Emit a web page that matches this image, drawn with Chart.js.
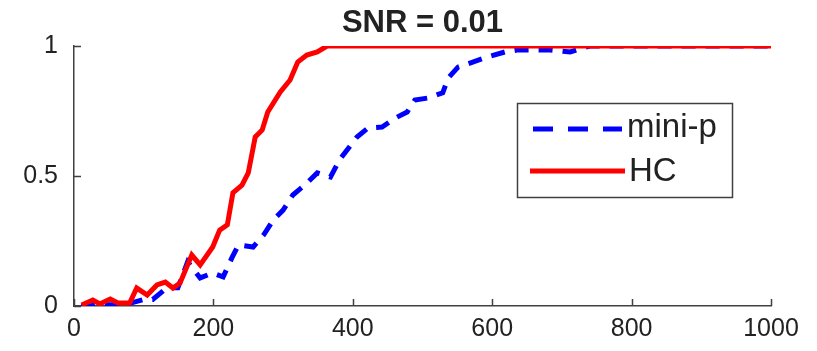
<!DOCTYPE html>
<html>
<head>
<meta charset="utf-8">
<script src="https://cdn.jsdelivr.net/npm/chart.js@4"></script>
<style>
  html, body { margin: 0; padding: 0; background: #fff; }
  #wrap { width: 817px; height: 351px; }
</style>
</head>
<body>
<div id="wrap"><canvas id="c" width="817" height="351"></canvas></div>
<script>
// ---- data ----
const titleText = 'SNR = 0.01';
const seriesNames = ['mini-p', 'HC'];

const hcX = [11, 27, 37, 52, 63, 80, 90, 105, 119, 131, 142, 152, 169, 181, 199, 209, 220, 228, 241, 250, 260, 270, 278, 296, 310, 321, 334, 349, 363, 1000];
const hcY = [0.004, 0.023, 0.008, 0.027, 0.012, 0.012, 0.069, 0.042, 0.081, 0.092, 0.069, 0.088, 0.196, 0.158, 0.227, 0.292, 0.312, 0.435, 0.465, 0.512, 0.65, 0.677, 0.746, 0.823, 0.869, 0.938, 0.965, 0.977, 1, 1];

const mpX = [10, 20, 37, 60, 80, 100, 113, 133, 149, 163, 181, 199, 214, 227, 236, 257, 272, 286, 300, 314, 331, 349, 368, 381, 406, 422, 442, 461, 478, 489, 508, 529, 537, 551, 572, 593, 618, 637, 664, 683, 712, 740, 1000];
const mpY = [0, 0, 0.005, 0.005, 0.01, 0.025, 0.025, 0.07, 0.07, 0.17, 0.108, 0.127, 0.112, 0.188, 0.235, 0.227, 0.273, 0.331, 0.369, 0.427, 0.465, 0.512, 0.496, 0.562, 0.65, 0.685, 0.688, 0.723, 0.746, 0.792, 0.8, 0.82, 0.877, 0.919, 0.938, 0.958, 0.977, 0.985, 0.985, 0.985, 0.977, 1, 1];

const xTicks = [0, 200, 400, 600, 800, 1000];
const yTicks = [0, 0.5, 1];
const yTickLabels = ['0', '0.5', '1'];

// ---- styling ----
const BLUE = '#0000ff';
const RED = '#ff0000';
const AXIS = '#404040';
const TEXT = '#222222';
const FONT = "'Liberation Sans', Arial, Helvetica, sans-serif";

const toPts = (xs, ys) => xs.map((x, i) => ({ x: x, y: ys[i] }));

const inwardTicks = {
  id: 'inwardTicks',
  afterDatasetsDraw(chart) {
    const ctx = chart.ctx;
    const xs = chart.scales.x, ys = chart.scales.y;
    const a = chart.chartArea;
    ctx.save();
    ctx.strokeStyle = AXIS;
    ctx.lineWidth = 1.5;
    ctx.beginPath();
    xTicks.forEach(v => {
      const px = Math.round(xs.getPixelForValue(v)) + 0.5;
      ctx.moveTo(px, a.bottom);
      ctx.lineTo(px, a.bottom - 7);
    });
    yTicks.forEach(v => {
      const py = Math.round(ys.getPixelForValue(v)) + 0.5;
      ctx.moveTo(a.left, py);
      ctx.lineTo(a.left + 7, py);
    });
    ctx.stroke();
    ctx.restore();
  }
};

const titleAndLegend = {
  id: 'titleAndLegend',
  afterDraw(chart) {
    const ctx = chart.ctx;
    const a = chart.chartArea;
    ctx.save();
    // title centred over the axes
    ctx.fillStyle = TEXT;
    ctx.font = "bold 31px " + FONT;
    ctx.textAlign = 'center';
    ctx.textBaseline = 'middle';
    ctx.fillText(titleText, (a.left + a.right) / 2, 23);

    // legend box
    const bx = 517.5, by = 103.5, bw = 215, bh = 94;
    ctx.fillStyle = '#ffffff';
    ctx.fillRect(bx, by, bw, bh);
    ctx.strokeStyle = AXIS;
    ctx.lineWidth = 1.5;
    ctx.strokeRect(bx, by, bw, bh);

    // mini-p sample
    ctx.strokeStyle = BLUE;
    ctx.lineWidth = 5;
    ctx.setLineDash([20, 15]);
    ctx.beginPath();
    ctx.moveTo(533, 129);
    ctx.lineTo(622, 129);
    ctx.stroke();
    // HC sample
    ctx.setLineDash([]);
    ctx.strokeStyle = RED;
    ctx.beginPath();
    ctx.moveTo(530, 171);
    ctx.lineTo(625, 171);
    ctx.stroke();

    ctx.fillStyle = TEXT;
    ctx.font = "33px " + FONT;
    ctx.textAlign = 'left';
    ctx.textBaseline = 'middle';
    ctx.fillText(seriesNames[0], 627, 128);
    ctx.fillText(seriesNames[1], 629, 172);
    ctx.restore();
  }
};

new Chart(document.getElementById('c'), {
  type: 'line',
  data: {
    datasets: [
      {
        label: seriesNames[1],
        data: toPts(hcX, hcY),
        borderColor: RED,
        borderWidth: 5,
        pointRadius: 0,
        tension: 0,
        fill: false,
        order: 0
      },
      {
        label: seriesNames[0],
        data: toPts(mpX, mpY),
        borderColor: BLUE,
        borderWidth: 5,
        borderDash: [14, 10],
        pointRadius: 0,
        tension: 0,
        fill: false,
        order: 1
      }
    ]
  },
  options: {
    responsive: false,
    animation: false,
    devicePixelRatio: 1,
    layout: { padding: { left: 0, right: 46, top: 46, bottom: 0 } },
    plugins: {
      legend: { display: false },
      title: { display: false },
      tooltip: { enabled: false }
    },
    scales: {
      x: {
        type: 'linear',
        min: 0,
        max: 1000,
        afterBuildTicks: s => { s.ticks = xTicks.map(v => ({ value: v })); },
        afterFit: s => { s.height = 45; },
        grid: { display: true, drawOnChartArea: false, drawTicks: false },
        border: { display: true, color: AXIS, width: 1.5 },
        ticks: {
          padding: 8,
          color: TEXT,
          font: { family: FONT, size: 25 },
          maxRotation: 0,
          callback: v => String(v)
        }
      },
      y: {
        type: 'linear',
        min: 0,
        max: 1,
        afterBuildTicks: s => { s.ticks = yTicks.map(v => ({ value: v })); },
        afterFit: s => { s.width = 74; },
        grid: { display: true, drawOnChartArea: false, drawTicks: false },
        border: { display: true, color: AXIS, width: 1.5 },
        ticks: {
          padding: 16,
          color: TEXT,
          font: { family: FONT, size: 25 },
          callback: v => yTickLabels[yTicks.indexOf(v)]
        }
      }
    }
  },
  plugins: [inwardTicks, titleAndLegend]
});
</script>
</body>
</html>
